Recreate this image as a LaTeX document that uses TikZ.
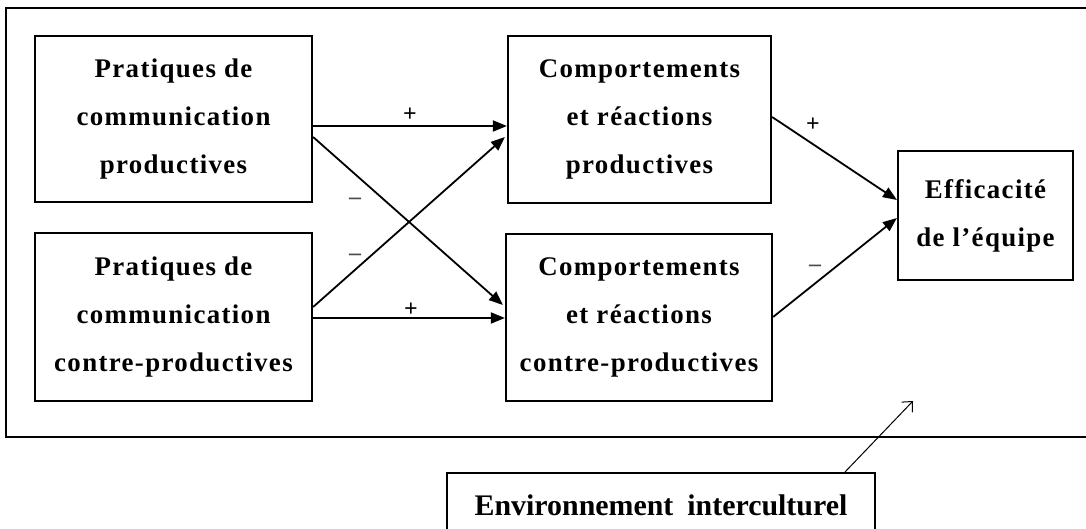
\documentclass[tikz,border=0pt]{standalone}
\usepackage{fontspec}
\setmainfont{Liberation Serif}
\newfontfamily\boxfont{Liberation Serif}[LetterSpace=5]
\usetikzlibrary{arrows.meta}
\begin{document}
\begin{tikzpicture}[x=1bp,y=-1bp,
  box/.style={draw,line width=2.2bp,align=center,inner sep=0pt,
    font=\boxfont\bfseries\fontsize{27}{48}\selectfont},
  link/.style={line width=1.8bp,-{Triangle[length=14bp,width=11bp]}},
  sign/.style={font=\bfseries\fontsize{24}{24}\selectfont,inner sep=0pt},
  minus/.style={sign,text=black!70}]
\useasboundingbox (0,0) rectangle (1086,529);
\clip (0,0) rectangle (1086,529);

% open frame around the model
\draw[line width=2.6bp] (1100,8) -- (6,8) -- (6,437) -- (1100,437);

% boxes
\node[box,minimum width=277bp,minimum height=166bp] (b1) at (173.5,119)
  {Pratiques de\\communication\\productives};
\node[box,minimum width=277bp,minimum height=168bp] (b2) at (173.5,317)
  {Pratiques de\\communication\\contre-productives};
\node[box,minimum width=263bp,minimum height=167bp] (b3) at (639.5,119.5)
  {Comportements\\et réactions\\productives};
\node[box,minimum width=266bp,minimum height=167bp] (b4) at (639,317.5)
  {Comportements\\et réactions\\contre-productives};
\node[box,minimum width=175bp,minimum height=129bp] (b5) at (985.5,215.5)
  {Efficacité\\de l’équipe};

% links
\draw[link] ([yshift=-7bp]b1.east) -- ([yshift=-6.5bp]b3.west);
\draw[link] ([yshift=-18bp]b1.east) -- ([yshift=12.5bp,xshift=-2bp]b4.west);
\draw[link] ([yshift=10bp]b2.east) -- ([yshift=-17.5bp,xshift=-2bp]b3.west);
\draw[link] ([yshift=-1bp]b2.east) -- ([yshift=-0.5bp]b4.west);
\draw[link] ([yshift=2.5bp]b3.east) -- ([yshift=15.5bp]b5.west);
\draw[link] ([yshift=0.5bp]b4.east) -- ([yshift=-2.5bp]b5.west);

% signs
\node[sign] (s1) at (410,115) {+};
\node[minus] (s2) at (355,201) {–};
\node[minus] (s3) at (355,257) {–};
\node[sign] (s4) at (411,310) {+};
\node[sign] (s5) at (813,125) {+};
\node[minus] (s6) at (815,268) {–};

% environment
\node[draw,line width=2bp,minimum width=428bp,minimum height=64bp,inner sep=0pt,
  font=\bfseries\fontsize{30}{30}\selectfont] (env) at (661,505)
  {Environnement\hspace{14bp}interculturel};
\coordinate (envtip) at (913,401);
\draw[line width=1bp,-{Straight Barb[length=8bp,width=15bp]}]
  ([xshift=184bp]env.north) -- (envtip);
\end{tikzpicture}
\end{document}
